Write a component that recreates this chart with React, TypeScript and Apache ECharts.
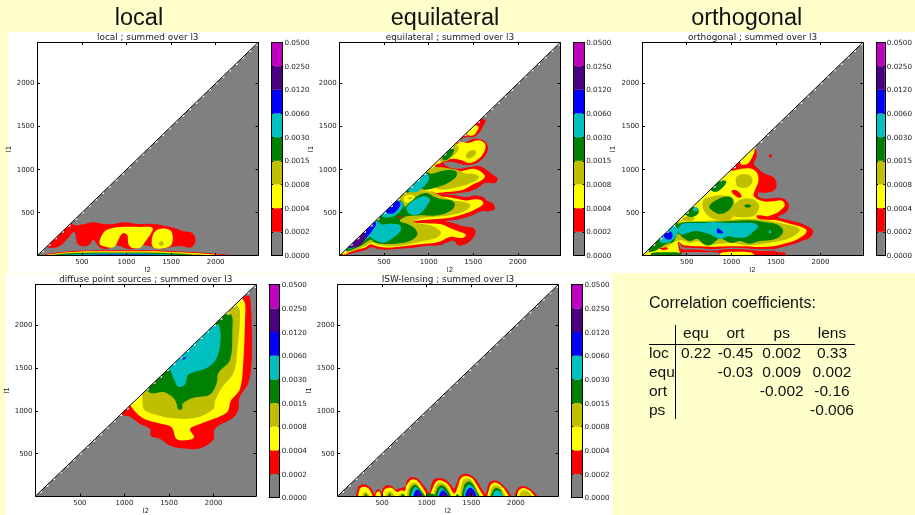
import React, { useEffect, useRef } from "react";
import * as echarts from "echarts";

type Pt = [number, number];
type Poly = Pt[];

const LEVEL_COLORS = ["#808080", "#ff0000", "#ffff00", "#bfbf00", "#008000", "#00bfbf", "#0000ff", "#4b0082", "#bf00bf"];
const LEVEL_LABELS = ["0.0000", "0.0002", "0.0004", "0.0008", "0.0015", "0.0030", "0.0060", "0.0120", "0.0250", "0.0500"];
const TICKS = [500, 1000, 1500, 2000];
const L_MIN = 2;
const L_MAX = 2475;
const TEETH_L = [40, 115, 190, 265, 340, 415, 490, 565, 640, 715, 790, 865, 940, 1015, 1090, 1165, 1240, 1315, 1390, 1465, 1540, 1615, 1690, 1765, 1840, 1915, 1990, 2065, 2140, 2215, 2290, 2365, 2440];

const LOCAL_RED: Poly[] = [
  [[105,108],[142,89],[247,108],[348,209],[411,275],[434,209],[449,139],[509,108],[583,128],[628,186],[666,139],[711,89],[797,81],[871,120],[935,108],[1002,81],[1115,81],[1189,120],[1264,108],[1339,81],[1451,89],[1563,108],[1619,112],[1713,93],[1769,147],[1769,217],[1732,267],[1631,286],[1563,313],[1451,341],[1339,364],[1227,372],[1115,368],[984,387],[871,372],[759,364],[628,387],[516,364],[434,352],[396,364],[366,380],[100,140]],
  [[40,-20],[40,5],[400,55],[1000,62],[1500,55],[2200,5],[2200,-20]],
];
const LOCAL_YELLOW: Poly[] = [
  [[696,159],[714,120],[815,93],[871,108],[920,209],[965,263],[1010,236],[1021,139],[1058,93],[1152,93],[1208,159],[1294,294],[1283,329],[1152,333],[928,333],[815,313],[748,275]],
  [[1283,139],[1302,255],[1358,306],[1451,313],[1507,275],[1518,178],[1489,108],[1376,81],[1309,93]],
  [[70,-20],[70,4],[400,44],[1000,50],[1500,44],[2100,4],[2100,-20]],
];
const LOCAL_OLIVE: Poly[] = [
  [[1360,140],[1390,170],[1420,140],[1390,110]],
  [[100,-20],[100,3],[420,37],[1000,43],[1450,37],[1950,3],[1950,-20]],
];
const LOCAL_GREEN: Poly[] = [[[150,-20],[150,3],[450,30],[1000,35],[1400,30],[1800,3],[1800,-20]]];
const LOCAL_CYAN: Poly[] = [[[250,-20],[250,2],[500,20],[1000,24],[1350,20],[1650,2],[1650,-20]]];
const LOCAL_BLUE: Poly[] = [[[400,-20],[400,2],[600,12],[1000,15],[1300,12],[1500,2],[1500,-20]]];

const EQU_RED: Poly[] = [
  [[11,8],[153,31],[284,62],[359,101],[415,81],[527,70],[677,81],[827,93],[976,112],[1126,120],[1219,159],[1283,170],[1331,120],[1425,139],[1500,209],[1526,275],[1500,321],[1388,341],[1275,379],[1182,402],[1313,418],[1462,457],[1593,515],[1687,519],[1743,546],[1724,604],[1649,642],[1612,681],[1518,700],[1425,681],[1313,700],[1144,712],[1275,720],[1425,739],[1537,778],[1631,844],[1743,844],[1773,894],[1705,952],[1631,1010],[1556,1041],[1462,1029],[1350,1010],[1238,1022],[1163,1080],[1275,1087],[1388,1057],[1500,1060],[1593,1115],[1657,1204],[1657,1293],[1593,1347],[1500,1355],[1425,1320],[1369,1293],[1350,1339],[1425,1378],[1500,1378],[1556,1416],[1612,1502],[1638,1579],[1593,1590],[1500,1700],[-50,120]],
];
const EQU_YELLOW: Poly[] = [
  [[41,15],[153,62],[284,93],[352,132],[415,108],[546,93],[714,108],[901,132],[1107,159],[1238,217],[1331,209],[1388,209],[1417,244],[1331,283],[1238,321],[1144,364],[976,375],[789,391],[976,418],[1238,441],[1425,495],[1556,557],[1612,604],[1593,642],[1518,654],[1425,642],[1313,662],[1200,681],[1088,700],[1014,766],[1070,731],[1200,739],[1388,766],[1500,828],[1593,875],[1631,921],[1575,983],[1500,1010],[1369,983],[1238,991],[1126,1010],[1070,1041],[1133,1076],[1163,1099],[1275,1126],[1369,1107],[1462,1076],[1575,1138],[1631,1231],[1631,1300],[1556,1339],[1444,1308],[1369,1320],[1313,1300],[1250,1400],[-50,120]],
  [[1425,1409],[1500,1397],[1548,1455],[1556,1502],[1500,1510]],
];
const EQU_RED_PATCH: Poly[] = [[[1070,1041],[1144,1014],[1155,1049],[1107,1068]]];
const EQU_OLIVE: Poly[] = [
  [[79,39],[266,101],[359,151],[434,128],[565,108],[752,128],[939,170],[1088,209],[1137,267],[1070,333],[957,364],[827,391],[901,430],[1051,449],[1238,468],[1406,519],[1470,584],[1406,623],[1275,642],[1163,681],[1070,728],[957,759],[1014,797],[1144,766],[1331,797],[1500,855],[1567,913],[1500,952],[1425,952],[1331,991],[1200,1018],[1070,1029],[1029,1029],[950,1150],[-50,120]],
  [[1107,1107],[1200,1099],[1283,1165],[1339,1242],[1300,1293]],
  [[1417,1165],[1455,1215],[1518,1223],[1530,1184],[1481,1138],[1432,1130]],
];
const EQU_GREEN: Poly[] = [
  [[71,54],[228,108],[348,186],[385,159],[471,139],[640,139],[789,170],[871,236],[856,302],[770,364],[677,402],[752,457],[901,468],[1107,468],[1257,526],[1294,596],[1257,642],[1144,654],[1070,681],[976,728],[883,700],[789,623],[733,565],[707,623],[647,662],[500,800],[-50,120]],
  [[741,739],[901,778],[976,766],[1070,789],[1200,836],[1305,913],[1313,971],[1238,998],[1144,983],[1032,952],[976,971],[850,1000]],
  [[1156,1115],[1208,1115],[1275,1192],[1283,1235],[1238,1242],[1163,1165]],
];
const EQU_CYAN: Poly[] = [
  [[97,81],[228,128],[340,217],[396,178],[497,151],[602,209],[684,286],[677,352],[583,372],[471,364],[415,410],[300,500],[60,150]],
  [[752,526],[808,476],[901,488],[995,604],[1014,654],[957,689],[883,673],[808,623],[759,573]],
  [[467,468],[546,441],[640,480],[707,557],[714,611],[651,642],[500,700]],
  [[770,759],[864,739],[939,797],[1006,894],[976,952],[820,960]],
];
const EQU_BLUE: Poly[] = [
  [[108,93],[228,147],[310,217],[370,294],[408,379],[300,450],[80,180]],
  [[520,511],[595,488],[658,546],[684,604],[647,642],[520,680]],
];
const EQU_INDIGO: Poly[] = [[[100,95],[209,108],[284,186],[303,236],[270,275],[180,260],[70,130]]];
const EQU_TOP_PATCH_Y: Poly[] = [[[722,681],[789,708],[845,681],[789,623],[733,623]]];
const EQU_TOP_PATCH_O: Poly[] = [[[763,673],[819,681],[789,654]]];
const EQU_DOT: Poly[] = [[[660,449],[677,465],[695,449],[677,433]]];

const ORT_RED: Poly[] = [
  [[10,-10],[1601,-10],[1608,31],[1507,46],[1470,66],[1545,93],[1676,128],[1788,170],[1881,209],[1919,275],[1900,313],[1806,364],[1657,410],[1526,449],[1619,507],[1646,584],[1601,654],[1507,673],[1395,662],[1309,681],[1302,728],[1395,731],[1489,766],[1507,844],[1470,913],[1376,952],[1302,1010],[1253,1068],[1283,1146],[1272,1242],[1200,1290],[-100,50]],
  [[1420,1161],[1440,1181],[1460,1161],[1440,1141]],
  [[1698,538],[1705,545],[1712,538],[1705,531]],
];
const ORT_YELLOW: Poly[] = [
  [[10,-10],[430,-10],[415,62],[404,159],[468,120],[647,108],[797,101],[946,108],[1133,108],[1283,101],[1470,108],[1619,147],[1732,186],[1825,248],[1844,294],[1788,333],[1657,372],[1507,410],[1395,441],[1526,507],[1601,584],[1563,642],[1470,631],[1358,631],[1253,689],[1264,759],[1302,855],[1294,952],[1227,1010],[1115,1010],[984,991],[900,1100],[-100,50]],
  [[1103,1068],[1171,1060],[1216,1107],[1264,1223],[1245,1242],[1150,1200]],
  [[871,-10],[890,35],[1058,46],[1227,35],[1264,-10]],
];
const ORT_RED_PATCH: Poly[] = [
  [[1002,751],[1058,759],[1115,700],[1096,673],[1040,700]],
  [[1283,468],[1395,457],[1477,418],[1395,418],[1302,430]],
  [[191,89],[236,108],[292,81],[236,66]],
  [[1025,449],[1032,456],[1039,449],[1032,442]],
];
const ORT_OLIVE: Poly[] = [
  [[30,23],[142,81],[273,101],[366,159],[441,178],[535,147],[628,170],[703,128],[871,139],[1021,147],[1171,120],[1358,139],[1545,170],[1694,224],[1769,294],[1732,333],[1582,372],[1395,410],[1208,430],[834,410],[404,402],[300,500],[-20,60]],
  [[684,642],[759,681],[890,700],[1014,673],[1040,565],[1003,430],[890,410],[759,449],[684,546]],
  [[441,410],[535,468],[591,430],[535,402]],
  [[1002,488],[1040,604],[1133,662],[1245,654],[1313,584],[1283,488],[1208,449],[1077,449]],
  [[1058,913],[1115,944],[1208,933],[1238,855],[1171,789],[1077,797],[1051,855]],
];
const ORT_GREEN: Poly[] = [
  [[404,372],[497,391],[759,391],[1208,410],[1358,391],[1507,364],[1582,294],[1545,224],[1432,178],[1320,170],[1208,139],[1096,170],[1002,147],[871,197],[759,120],[684,139],[617,197],[535,170],[460,209],[404,255],[348,159],[273,139],[142,54],[50,50],[380,385]],
  [[105,-10],[105,31],[273,39],[441,31],[441,-10]],
  [[752,573],[908,681],[1002,673],[1021,604],[946,507],[849,488]],
  [[1144,577],[1182,596],[1227,577],[1182,557]],
  [[479,488],[553,449],[628,488],[628,546],[580,565],[520,560]],
  [[767,778],[815,739],[890,778],[946,855],[909,875],[800,850]],
];
const ORT_CYAN: Poly[] = [
  [[404,294],[441,364],[535,379],[684,379],[797,391],[946,379],[1245,379],[1302,341],[1245,275],[1171,217],[1058,209],[965,224],[871,193],[759,248],[610,286],[516,267],[441,244]],
  [[198,170],[273,147],[348,186],[404,275],[385,333],[340,341],[250,320]],
  [[572,526],[617,519],[617,557],[580,557]],
  [[1421,267],[1451,267],[1436,302]],
];
const ORT_BLUE: Poly[] = [
  [[243,236],[273,190],[329,197],[340,255],[303,283]],
  [[845,317],[909,267],[845,263]],
];
const ORT_GRAY_STRIPE: Poly[] = [
  [[419,147],[456,101],[628,89],[797,74],[946,89],[1133,89],[1283,74],[1470,74],[1470,58],[1283,58],[1133,74],[946,74],[797,58],[628,70],[441,78],[411,139]],
  [[445,-10],[445,30],[500,42],[700,40],[860,33],[860,-10]],
];

const PS_RED: Poly[] = [[[987,948],[1062,929],[1174,844],[1287,786],[1294,708],[1399,670],[1511,592],[1642,561],[1848,561],[1997,662],[2016,793],[2222,921],[2278,1018],[2289,1153],[2390,1327],[2427,1598],[2427,2024],[2416,2237],[2401,2341],[2334,2345],[2200,2400],[900,1050]]];
const PS_YELLOW: Poly[] = [[[1070,1056],[1137,971],[1230,902],[1399,851],[1530,805],[1586,670],[1717,658],[1780,689],[1735,786],[1848,844],[2147,979],[2192,1115],[2296,1258],[2334,1598],[2352,2063],[2352,2256],[2315,2314],[2200,2400],[1000,1150]]];
const PS_OLIVE: Poly[] = [[[1193,1180],[1219,1018],[1361,952],[1586,909],[1810,921],[1997,1018],[2016,1115],[2091,1269],[2222,1443],[2266,1714],[2296,2140],[2266,2225],[2100,2350],[1100,1280]]];
const PS_GREEN: Poly[] = [[[1287,1211],[1436,1219],[1548,1153],[1586,1076],[1597,1026],[1623,1010],[1649,1029],[1653,1084],[1773,1153],[1960,1192],[2035,1327],[2053,1443],[2184,1598],[2210,1947],[2203,2121],[2147,2121],[2000,2250],[1200,1350]]];
const PS_CYAN: Poly[] = [[[1503,1490],[1556,1366],[1604,1281],[1679,1308],[1717,1424],[1922,1502],[2035,1618],[2079,1869],[2053,2005],[1997,1993],[1850,2050],[1400,1600]]];
const PS_BLUE: Poly[] = [[[1642,1606],[1690,1629],[1680,1606]]];

const ISW_RED: Poly[] = [
  [[224,-20],[224,89],[251,128],[307,139],[363,108],[400,50],[411,20],[438,70],[468,81],[494,43],[505,89],[550,128],[606,120],[654,81],[718,101],[755,108],[782,186],[830,224],[886,213],[942,159],[999,81],[1028,31],[1043,89],[1073,186],[1130,213],[1204,197],[1260,147],[1305,89],[1343,166],[1373,236],[1429,263],[1503,244],[1559,186],[1616,89],[1672,0],[1672,-20]],
  [[1679,-20],[1679,89],[1709,166],[1784,182],[1859,128],[1915,58],[1945,-20]],
  [[2001,-20],[2016,89],[2083,120],[2158,89],[2214,39],[2240,-20]],
];
const ISW_YELLOW: Poly[] = [
  [[243,-20],[251,89],[299,112],[355,81],[389,-20]],
  [[426,-20],[438,43],[468,58],[486,-20]],
  [[512,-20],[520,70],[568,101],[624,89],[669,50],[718,70],[755,62],[774,128],[830,197],[886,186],[935,128],[991,39],[1006,-20]],
  [[1055,-20],[1081,128],[1130,186],[1204,166],[1253,120],[1290,50],[1316,31],[1354,128],[1380,205],[1429,236],[1503,216],[1548,159],[1597,70],[1634,-20]],
  [[1690,-20],[1702,89],[1728,147],[1784,159],[1851,108],[1896,43],[1922,-20]],
  [[2020,-20],[2035,70],[2083,97],[2151,70],[2195,23],[2214,-20]],
];
const ISW_OLIVE: Poly[] = [
  [[280,-20],[290,40],[310,50],[340,30],[360,-20]],
  [[542,-20],[550,31],[587,58],[624,31],[643,-20]],
  [[681,-20],[699,23],[737,31],[767,-20]],
  [[793,-20],[800,108],[849,159],[894,147],[931,81],[980,12],[999,-20]],
  [[1092,-20],[1100,108],[1148,159],[1204,135],[1242,89],[1279,0],[1298,-20]],
  [[1391,-20],[1399,166],[1440,205],[1496,193],[1533,135],[1578,50],[1604,-20]],
  [[1716,-20],[1728,89],[1765,128],[1821,108],[1866,31],[1889,-20]],
  [[2046,-20],[2053,43],[2090,70],[2139,50],[2184,-20]],
];
const ISW_GREEN: Poly[] = [
  [[305,-20],[310,25],[325,25],[340,-20]],
  [[570,-20],[575,25],[590,30],[605,-20]],
  [[710,-20],[720,20],[745,20],[755,-20]],
  [[812,-20],[819,89],[868,135],[905,108],[961,31],[980,-20]],
  [[990,-20],[1000,25],[1040,30],[1080,25],[1100,-20]],
  [[1103,-20],[1118,89],[1159,128],[1204,108],[1253,31],[1268,-20]],
  [[1320,-20],[1335,20],[1355,20],[1370,-20]],
  [[1410,-20],[1421,128],[1466,174],[1514,147],[1559,58],[1589,-20]],
  [[1728,-20],[1739,58],[1776,97],[1821,81],[1851,20],[1866,-20]],
];
const ISW_CYAN: Poly[] = [
  [[830,-20],[841,70],[879,108],[924,58],[961,0],[968,-20]],
  [[1130,-20],[1133,58],[1167,97],[1215,58],[1245,0],[1253,-20]],
  [[1429,-20],[1432,89],[1477,135],[1522,108],[1559,31],[1574,-20]],
  [[1746,-20],[1754,43],[1784,70],[1829,50],[1859,-20]],
];
const ISW_BLUE: Poly[] = [
  [[856,-20],[864,43],[894,78],[931,43],[954,-20]],
  [[1141,-20],[1148,31],[1178,70],[1215,43],[1242,-20]],
  [[1440,-20],[1447,58],[1485,101],[1529,70],[1559,0],[1567,-20]],
];
const ISW_INDIGO: Poly[] = [
  [[879,-20],[886,12],[909,43],[935,12],[946,-20]],
  [[1165,-20],[1178,20],[1200,35],[1225,15],[1235,-20]],
  [[1460,-20],[1470,40],[1490,70],[1515,45],[1535,-20]],
];
const ISW_MAGENTA: Poly[] = [[[1500,-10],[1510,15],[1530,-10]]];

const CORR_TITLE = "Correlation coefficients:";
const CORR_HEADERS = ["equ", "ort", "ps", "lens"];
const CORR_ROWS = ["loc", "equ", "ort", "ps"];
const CORR_VALUES = [
  ["0.22", "-0.45", "0.002", "0.33"],
  ["", "-0.03", "0.009", "0.002"],
  ["", "", "-0.002", "-0.16"],
  ["", "", "", "-0.006"],
];

type Layer = [number, Poly[]];
const PANELS: { heading: string | null; headingX: number; title: string; x0: number; cb: number; top: number; layers: Layer[] }[] = [
  { heading: "local", headingX: 139, title: "local ; summed over l3", x0: 37.5, cb: 271.7, top: 42.5,
    layers: [[1, LOCAL_RED], [2, LOCAL_YELLOW], [3, LOCAL_OLIVE], [4, LOCAL_GREEN], [5, LOCAL_CYAN], [6, LOCAL_BLUE]] },
  { heading: "equilateral", headingX: 445, title: "equilateral ; summed over l3", x0: 339.7, cb: 573.5, top: 42.5,
    layers: [[1, EQU_RED], [2, EQU_YELLOW], [1, EQU_RED_PATCH], [3, EQU_OLIVE], [4, EQU_GREEN], [5, EQU_CYAN], [6, EQU_BLUE], [7, EQU_INDIGO], [2, EQU_TOP_PATCH_Y], [3, EQU_TOP_PATCH_O], [1, EQU_DOT]] },
  { heading: "orthogonal", headingX: 746.7, title: "orthogonal ; summed over l3", x0: 642.3, cb: 876.5, top: 42.5,
    layers: [[1, ORT_RED], [2, ORT_YELLOW], [1, ORT_RED_PATCH], [3, ORT_OLIVE], [4, ORT_GREEN], [5, ORT_CYAN], [6, ORT_BLUE], [0, ORT_GRAY_STRIPE]] },
  { heading: null, headingX: 0, title: "diffuse point sources ; summed over l3", x0: 35.5, cb: 269, top: 284.7,
    layers: [[1, PS_RED], [2, PS_YELLOW], [3, PS_OLIVE], [4, PS_GREEN], [5, PS_CYAN], [6, PS_BLUE]] },
  { heading: null, headingX: 0, title: "ISW-lensing ; summed over l3", x0: 337.7, cb: 571.7, top: 284.7,
    layers: [[1, ISW_RED], [2, ISW_YELLOW], [3, ISW_OLIVE], [4, ISW_GREEN], [5, ISW_CYAN], [6, ISW_BLUE], [7, ISW_INDIGO], [8, ISW_MAGENTA]] },
];

const AXIS_W = 220.5;
const AXIS_H = 213;
const CB_W = 10.7;
const TOOTH = 32;
const TEXT = "#222222";
const SANS = "'DejaVu Sans', sans-serif";
const HELV = "'Liberation Sans', Arial, sans-serif";

function buildOption() {
  const grid: any[] = [];
  const xAxis: any[] = [];
  const yAxis: any[] = [];
  const series: any[] = [];
  const graphic: any[] = [
    { type: "rect", z: -10, shape: { x: 8, y: 32, width: 907, height: 241 }, style: { fill: "#ffffff" } },
    { type: "rect", z: -9, shape: { x: 5.5, y: 274, width: 606.5, height: 241 }, style: { fill: "#ffffff" } },
  ];

  const line = { show: true, onZero: false, lineStyle: { color: "#000", width: 1 } };
  const plain = (v: number) => String(v);
  PANELS.forEach((p) => {
    const g = grid.length;
    grid.push({ left: p.x0, top: p.top, width: AXIS_W, height: AXIS_H });
    const tick = { show: true, inside: true, length: 2.5, customValues: TICKS, lineStyle: { color: "#000", width: 1 } };
    const xi = xAxis.length;
    xAxis.push(
      { type: "value", gridIndex: g, min: L_MIN, max: L_MAX, position: "bottom", z: 10, splitLine: { show: false }, axisLine: line, axisTick: tick,
        axisLabel: { customValues: TICKS, formatter: plain, fontSize: 7, color: TEXT, margin: 3, fontFamily: SANS, hideOverlap: false },
        name: "l2", nameLocation: "middle", nameGap: 10, nameTextStyle: { fontSize: 7, color: TEXT, fontFamily: SANS } },
      { type: "value", gridIndex: g, min: L_MIN, max: L_MAX, position: "top", z: 10, splitLine: { show: false }, axisLine: line, axisTick: tick, axisLabel: { show: false } },
    );
    const yi = yAxis.length;
    yAxis.push(
      { type: "value", gridIndex: g, min: L_MIN, max: L_MAX, position: "left", z: 10, splitLine: { show: false }, axisLine: line, axisTick: tick,
        axisLabel: { customValues: TICKS, formatter: plain, fontSize: 7, color: TEXT, margin: 3, fontFamily: SANS },
        name: "l1", nameLocation: "middle", nameGap: 25.5, nameRotate: 90, nameMoveOverlap: false, nameTextStyle: { fontSize: 7, color: TEXT, fontFamily: SANS } },
      { type: "value", gridIndex: g, min: L_MIN, max: L_MAX, position: "right", z: 10, splitLine: { show: false }, axisLine: line, axisTick: tick, axisLabel: { show: false } },
    );

    const items: { level: number; pts: Poly; smooth: number }[] = [];
    items.push({ level: 0, pts: [[L_MIN, L_MIN], [L_MAX, L_MIN], [L_MAX, L_MAX]], smooth: 0 });
    p.layers.forEach(([level, polys]) => polys.forEach((pts) => items.push({ level, pts, smooth: 0.35 })));
    series.push({
      type: "custom", coordinateSystem: "cartesian2d", xAxisIndex: xi, yAxisIndex: yi, clip: true, silent: true, z: 3,
      data: items.map((_, k) => [k]), encode: { x: 0, y: 0 },
      renderItem: (params: any, api: any) => {
        const it = items[params.dataIndex];
        return { type: "polygon", shape: { points: it.pts.map((q) => api.coord(q)), smooth: it.smooth }, style: { fill: LEVEL_COLORS[it.level] } };
      },
    });
    series.push({
      type: "custom", coordinateSystem: "cartesian2d", xAxisIndex: xi, yAxisIndex: yi, clip: true, silent: true, z: 4,
      data: [-1, ...TEETH_L].map((l) => [l]), encode: { x: 0, y: 0 },
      renderItem: (params: any, api: any) => {
        const idx = params.dataIndex;
        if (idx === 0) {
          return { type: "polygon", shape: { points: [[L_MIN, L_MIN], [L_MIN, L_MAX], [L_MAX, L_MAX]].map((q) => api.coord(q)) }, style: { fill: "#ffffff" } };
        }
        const l = TEETH_L[idx - 1];
        return { type: "polygon", shape: { points: [[l, l], [l + TOOTH, l + TOOTH], [l + TOOTH, l]].map((q) => api.coord(q)) }, style: { fill: "#ffffff" } };
      },
    });
    series.push({
      type: "line", xAxisIndex: xi, yAxisIndex: yi, z: 5, symbol: "none", silent: true,
      data: [[L_MIN, L_MIN], [L_MAX, L_MAX]], lineStyle: { color: "#000", width: 1 },
    });

    const cg = grid.length;
    grid.push({ left: p.cb, top: p.top, width: CB_W, height: AXIS_H });
    const cxi = xAxis.length;
    const cbEdge = { type: "value", gridIndex: cg, min: 0, max: 1, z: 10, splitLine: { show: false }, axisLine: line, axisTick: { show: false }, axisLabel: { show: false } };
    xAxis.push({ ...cbEdge, position: "bottom" }, { ...cbEdge, position: "top" });
    const cyi = yAxis.length;
    const cbTick = { show: true, inside: true, length: 1.5, lineStyle: { color: "#000", width: 1 } };
    yAxis.push(
      { type: "value", gridIndex: cg, min: 0, max: 9, interval: 1, position: "right", z: 10, splitLine: { show: false }, axisLine: line, axisTick: cbTick,
        axisLabel: { fontSize: 7.2, color: TEXT, margin: 2, fontFamily: SANS, formatter: (v: number) => LEVEL_LABELS[v] } },
      { type: "value", gridIndex: cg, min: 0, max: 9, interval: 1, position: "left", z: 10, splitLine: { show: false }, axisLine: line, axisTick: cbTick, axisLabel: { show: false } },
    );
    series.push({
      type: "custom", coordinateSystem: "cartesian2d", xAxisIndex: cxi, yAxisIndex: cyi, silent: true, z: 3,
      data: LEVEL_COLORS.map((_, k) => [0, k]), encode: { x: 0, y: 1 },
      renderItem: (params: any, api: any) => {
        const k = params.dataIndex;
        const a = api.coord([0, k + 1]);
        const b = api.coord([1, k]);
        return { type: "rect", shape: { x: a[0], y: a[1], width: b[0] - a[0], height: b[1] - a[1] }, style: { fill: LEVEL_COLORS[k] } };
      },
    });

    if (p.heading) {
      graphic.push({ type: "text", z: 20, x: p.headingX, y: 17, style: { text: p.heading, fontSize: 23.5, fontFamily: HELV, fill: "#111111", align: "center", verticalAlign: "middle" } });
    }
    graphic.push({ type: "text", z: 20, x: p.x0 + AXIS_W / 2, y: p.top - 6, style: { text: p.title, fontSize: 8.9, fontFamily: SANS, fill: TEXT, align: "center", verticalAlign: "middle" } });
  });

  const colX = [696, 735.5, 781.7, 832];
  const rowY = [352.3, 371.5, 390, 409];
  const tx = (text: string, x: number, y: number, align = "center", fontSize = 15.5) => ({
    type: "text", z: 20, x, y, style: { text, fontSize, fontFamily: HELV, fill: "#111111", align, verticalAlign: "middle" },
  });
  graphic.push(tx(CORR_TITLE, 649, 302, "left", 16));
  CORR_HEADERS.forEach((h, c) => graphic.push(tx(h, colX[c], 332.7)));
  CORR_ROWS.forEach((r, k) => {
    graphic.push(tx(r, 649, rowY[k], "left"));
    CORR_VALUES[k].forEach((v, c) => {
      if (v) graphic.push(tx(v, colX[c], rowY[k]));
    });
  });
  graphic.push(
    { type: "line", z: 20, shape: { x1: 649, y1: 344.5, x2: 855, y2: 344.5 }, style: { stroke: "#000", lineWidth: 1 } },
    { type: "line", z: 20, shape: { x1: 675.5, y1: 325, x2: 675.5, y2: 419 }, style: { stroke: "#000", lineWidth: 1 } },
  );

  return { animation: false, backgroundColor: "#ffffcc", grid, xAxis, yAxis, series, graphic };
}

export default function App() {
  const ref = useRef<HTMLDivElement>(null);
  useEffect(() => {
    const chart = echarts.init(ref.current!, null, { renderer: "svg" });
    chart.setOption(buildOption());
    return () => chart.dispose();
  }, []);
  return <div ref={ref} style={{ position: "absolute", left: 0, top: 0, width: 915, height: 515, filter: "blur(0.35px)" }} />;
}
